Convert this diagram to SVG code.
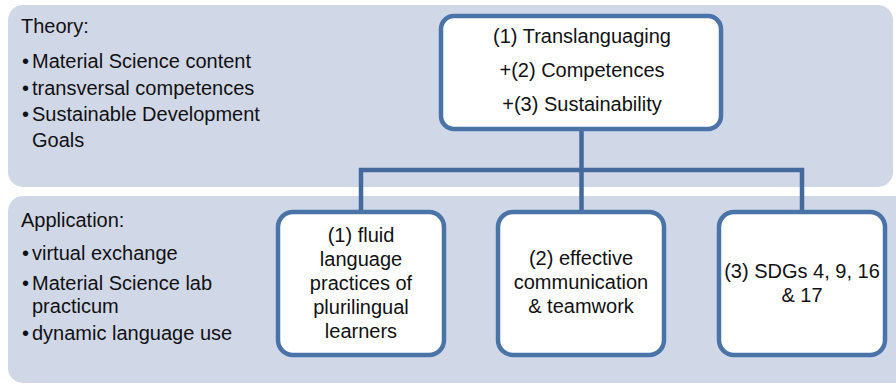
<svg xmlns="http://www.w3.org/2000/svg" width="896" height="386" viewBox="0 0 896 386">
<style>
.panel{fill:#D0D8E8;}
.box{fill:#FFFFFF;stroke:#4A73A8;stroke-width:4.5;}
.conn{fill:none;stroke:#44699C;stroke-width:4.5;}
text{font-family:"Liberation Sans",Arial,sans-serif;font-size:20px;fill:#111111;}
.c{text-anchor:middle;}
</style>
<rect width="896" height="386" fill="#FFFFFF"/>
<g id="panel-theory">
<rect class="panel" x="8" y="5" width="885" height="182" rx="15"/>
<text x="21" y="33">Theory:</text>
<text x="22" y="68">•</text><text x="32" y="68">Material Science content</text>
<text x="22" y="95">•</text><text x="32" y="95">transversal competences</text>
<text x="22" y="121">•</text><text x="32" y="121">Sustainable Development</text>
<text x="32" y="147">Goals</text>
</g>
<g id="panel-application">
<rect class="panel" x="8" y="196" width="905" height="187" rx="15"/>
<text x="21" y="227">Application:</text>
<text x="22" y="260">•</text><text x="32" y="260">virtual exchange</text>
<text x="22" y="290">•</text><text x="32" y="290">Material Science lab</text>
<text x="32" y="313">practicum</text>
<text x="22" y="340">•</text><text x="32" y="340">dynamic language use</text>
</g>
<g id="connectors">
<path class="conn" d="M581.5,129 V212"/>
<path class="conn" d="M361,212 V170 H802 V212"/>
</g>
<g id="node-top">
<rect class="box" x="441" y="16" width="280" height="113" rx="13"/>
<text class="c" x="582" y="43">(1) Translanguaging</text>
<text class="c" x="582" y="77">+(2) Competences</text>
<text class="c" x="582" y="111">+(3) Sustainability</text>
</g>
<g id="node-fluid">
<rect class="box" x="278" y="212" width="166" height="143" rx="15"/>
<text class="c" x="361" y="242">(1) fluid</text>
<text class="c" x="361" y="266">language</text>
<text class="c" x="361" y="290">practices of</text>
<text class="c" x="361" y="314">plurilingual</text>
<text class="c" x="361" y="338">learners</text>
</g>
<g id="node-communication">
<rect class="box" x="498" y="212" width="166" height="143" rx="15"/>
<text class="c" x="581" y="265">(2) effective</text>
<text class="c" x="581" y="289">communication</text>
<text class="c" x="581" y="313">&amp; teamwork</text>
</g>
<g id="node-sdgs">
<rect class="box" x="719" y="212" width="166" height="143" rx="15"/>
<text class="c" x="802" y="278">(3) SDGs 4, 9, 16</text>
<text class="c" x="802" y="302">&amp; 17</text>
</g>
</svg>
